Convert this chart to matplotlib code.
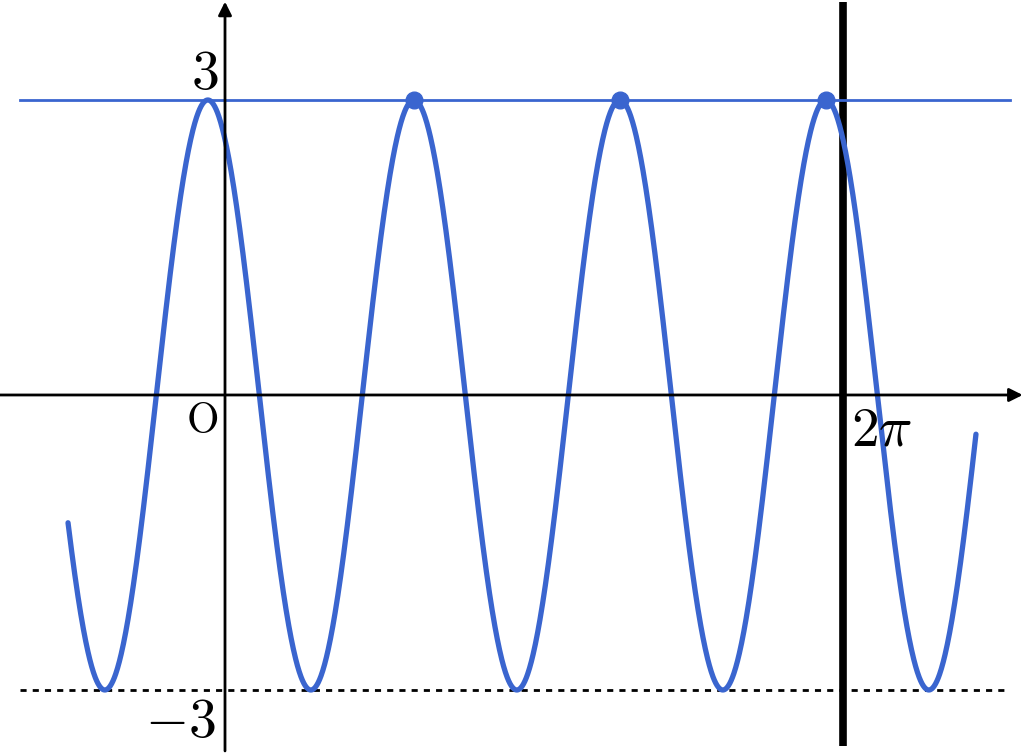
import matplotlib
matplotlib.use("Agg")
import matplotlib.pyplot as plt
import numpy as np

plt.rcParams['mathtext.fontset'] = 'cm'

# Function y = A sin(w x + phi)
amp = 3
omega = 3
phase = 2 * np.pi / 3
x_start, x_end = -1.596, 7.635

# Peaks marked with dots (x = -pi/18 + 2*pi*k/3)
peak_k = [1, 2, 3]

blue = "#3a65cf"

fig = plt.figure(figsize=(10.24, 7.53), dpi=100)
ax = fig.add_axes([0, 0, 1, 1])
ax.set_xlim(-2.2876, 8.1234)
ax.set_ylim(-3.641, 4.017)
ax.axis("off")

# Axes with arrows
ax.annotate("", xy=(8.11, 0), xytext=(-2.30, 0), annotation_clip=False,
            arrowprops=dict(arrowstyle="-|>", color="black", lw=2,
                            mutation_scale=20, shrinkA=0, shrinkB=0))
ax.annotate("", xy=(0, 4.0), xytext=(0, -3.62), annotation_clip=False,
            arrowprops=dict(arrowstyle="-|>", color="black", lw=2,
                            mutation_scale=20, shrinkA=0, shrinkB=0))

# Thick line at x = 2pi
ax.plot([2 * np.pi, 2 * np.pi], [-3.57, 3.995], color="black", lw=5.5,
        solid_capstyle="butt")

# y = 3 line and y = -3 dotted line
ax.axhline(amp, xmin=0.0195, xmax=0.986, color=blue, lw=2)
ax.plot([-2.085, 7.98], [-amp, -amp], color="black", lw=2,
        linestyle=(0, (2.2, 2.2)))

# Curve
x = np.linspace(x_start, x_end, 2000)
y = amp * np.sin(omega * x + phase)
ax.plot(x, y, color=blue, lw=3.8, solid_capstyle="round")

# Peak dots
px = [-np.pi / 18 + 2 * np.pi * k / 3 for k in peak_k]
ax.plot(px, [amp] * len(px), "o", color=blue, markersize=12, zorder=5)

fs = 40
ax.text(-0.21, 3.26, r"$3$", fontsize=fs, ha="center", va="center")
ax.text(-0.23, -0.26, r"$\mathrm{O}$", fontsize=fs - 10, ha="center", va="center")
ax.text(2 * np.pi + 0.39, -0.36, r"$2\pi$", fontsize=fs, ha="center", va="center")
ax.text(-0.45, -3.33, r"$-3$", fontsize=fs, ha="center", va="center")

fig.savefig("out.png", dpi=100)
